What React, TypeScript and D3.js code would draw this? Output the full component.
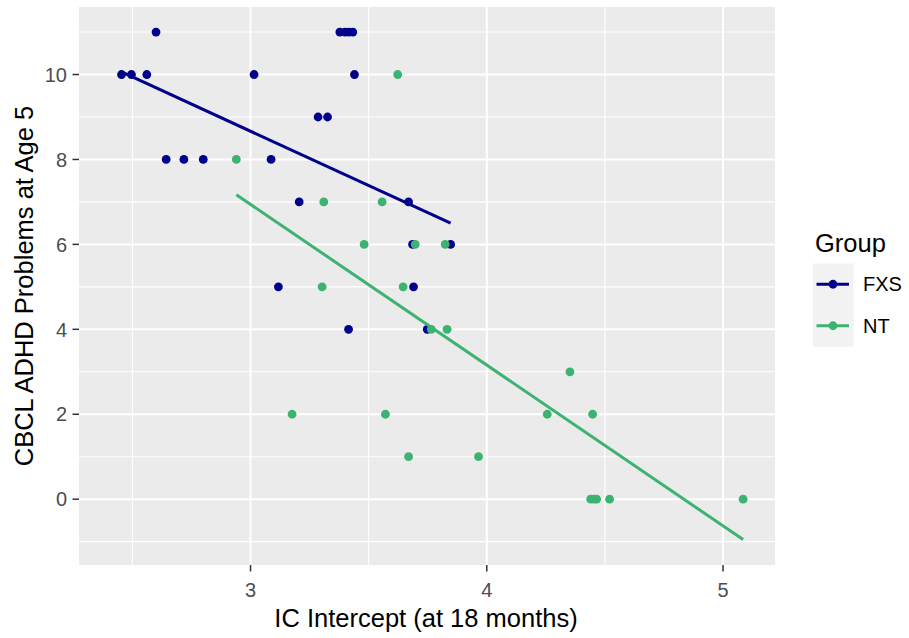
import React from "react";
import { scaleLinear, line } from "d3";

// values (IC intercept vs CBCL ADHD score)
const groups = ["FXS", "NT"];
const groupColors = ["#00008B", "#3CB371"];

const fxsX = [2.454, 2.496, 2.561, 2.6, 2.643, 2.718, 2.8, 3.015, 3.087, 3.118, 3.206, 3.286, 3.326, 3.378, 3.4, 3.416, 3.433, 3.415, 3.44, 3.669, 3.686, 3.69, 3.748, 3.847];
const fxsY = [10, 10, 10, 11, 8, 8, 8, 10, 8, 5, 7, 9, 9, 11, 11, 11, 11, 4, 10, 7, 6, 5, 4, 6];

const ntX = [2.94, 3.176, 3.303, 3.31, 3.481, 3.557, 3.571, 3.623, 3.646, 3.669, 3.697, 3.765, 3.824, 3.832, 3.965, 4.256, 4.352, 4.448, 4.44, 4.455, 4.465, 4.52, 5.085];
const ntY = [8, 2, 5, 7, 6, 7, 2, 10, 5, 1, 6, 4, 6, 4, 1, 2, 3, 2, 0, 0, 0, 0, 0];

// fitted lm lines, endpoints
const fxsFitX = [2.454, 3.847];
const fxsFitY = [10.06, 6.5];
const ntFitX = [2.94, 5.085];
const ntFitY = [7.17, -0.95];

const xTicks = [3, 4, 5];
const xMinor = [2.5, 3.5, 4.5];
const yTicks = [0, 2, 4, 6, 8, 10];
const yMinor = [-1, 1, 3, 5, 7, 9, 11];

const font = "'Liberation Sans', Arial, sans-serif";

export default function App() {
  const width = 909,
    height = 638;
  const panel = { left: 79, right: 775, top: 7, bottom: 565 };

  const x = scaleLinear().domain([2.274, 5.22]).range([panel.left, panel.right]);
  const y = scaleLinear().domain([-1.55, 11.59]).range([panel.bottom, panel.top]);

  const series = [
    { xs: fxsX, ys: fxsY, fx: fxsFitX, fy: fxsFitY },
    { xs: ntX, ys: ntY, fx: ntFitX, fy: ntFitY }
  ];

  const fitLine = line<number[]>()
    .x(d => d[0])
    .y(d => d[1]);

  return (
    <svg
      width={width}
      height={height}
      style={{ position: "absolute", left: 0, top: 0, background: "#fff" }}
      fontFamily={font}
    >
      <rect
        x={panel.left}
        y={panel.top}
        width={panel.right - panel.left}
        height={panel.bottom - panel.top}
        fill="#EBEBEB"
      />
      {yMinor.map(v => (
        <line key={"ym" + v} x1={panel.left} x2={panel.right} y1={y(v)} y2={y(v)} stroke="#fff" strokeWidth={1.1} />
      ))}
      {xMinor.map(v => (
        <line key={"xm" + v} y1={panel.top} y2={panel.bottom} x1={x(v)} x2={x(v)} stroke="#fff" strokeWidth={1.1} />
      ))}
      {yTicks.map(v => (
        <line key={"yg" + v} x1={panel.left} x2={panel.right} y1={y(v)} y2={y(v)} stroke="#fff" strokeWidth={2} />
      ))}
      {xTicks.map(v => (
        <line key={"xg" + v} y1={panel.top} y2={panel.bottom} x1={x(v)} x2={x(v)} stroke="#fff" strokeWidth={2} />
      ))}

      {series.map((s, i) => (
        <g key={groups[i]}>
          {s.xs.map((v, j) => (
            <circle key={j} cx={x(v)} cy={y(s.ys[j])} r={4.4} fill={groupColors[i]} />
          ))}
        </g>
      ))}
      {series.map((s, i) => (
        <path
          key={"fit" + groups[i]}
          d={fitLine(s.fx.map((v, j) => [x(v), y(s.fy[j])])) || ""}
          fill="none"
          stroke={groupColors[i]}
          strokeWidth={3}
        />
      ))}

      {/* axes */}
      {yTicks.map(v => (
        <g key={"yt" + v}>
          <line x1={panel.left - 6.5} x2={panel.left} y1={y(v)} y2={y(v)} stroke="#333" strokeWidth={1.5} />
          <text x={panel.left - 12} y={y(v)} dy="0.36em" textAnchor="end" fontSize={20} fill="#4D4D4D">
            {v}
          </text>
        </g>
      ))}
      {xTicks.map(v => (
        <g key={"xt" + v}>
          <line y1={panel.bottom} y2={panel.bottom + 6.5} x1={x(v)} x2={x(v)} stroke="#333" strokeWidth={1.5} />
          <text x={x(v)} y={panel.bottom + 31.5} textAnchor="middle" fontSize={20} fill="#4D4D4D">
            {v}
          </text>
        </g>
      ))}
      <text x={(panel.left + panel.right) / 2 - 1} y={626.5} textAnchor="middle" fontSize={25.5} fill="#000">
        IC Intercept (at 18 months)
      </text>
      <text
        transform={`translate(33, ${(panel.top + panel.bottom) / 2}) rotate(-90)`}
        textAnchor="middle"
        fontSize={25.5}
        fill="#000"
      >
        CBCL ADHD Problems at Age 5
      </text>

      {/* legend */}
      <text x={815} y={252} fontSize={25.5} fill="#000">
        Group
      </text>
      {groups.map((g, i) => {
        const top = 263.5 + i * 41.5;
        return (
          <g key={"lg" + g}>
            <rect x={813} y={top} width={40.5} height={41.5} fill="#F2F2F2" />
            <line x1={816.5} x2={849} y1={top + 20.75} y2={top + 20.75} stroke={groupColors[i]} strokeWidth={3} />
            <circle cx={833} cy={top + 20.75} r={4.4} fill={groupColors[i]} />
            <text x={863} y={top + 20.75} dy="0.36em" fontSize={20} fill="#000">
              {g}
            </text>
          </g>
        );
      })}
    </svg>
  );
}
